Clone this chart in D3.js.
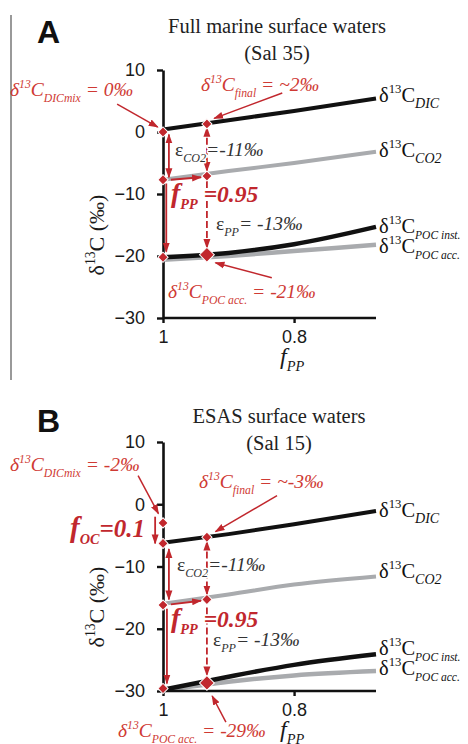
<!DOCTYPE html>
<html>
<head>
<meta charset="utf-8">
<script src="https://cdn.jsdelivr.net/npm/d3@7"></script>
<style>
body { margin: 0; background: #fff; }
svg { display: block; }
</style>
</head>
<body>
<script>
// f_PP sample points shared by every curve
var fPts = [1, 0.9, 0.8, 0.675];

// panel A - full marine surface waters (Sal 35)
var dicA = [0.4, 1.9, 3.4, 5.4];
var co2A = [-7.7, -6.3, -5.0, -3.2];
var pocInstA = [-20.2, -19.5, -18.1, -15.3];
var pocAccA = [-20.6, -20.0, -19.2, -18.2];

// panel B - ESAS surface waters (Sal 15)
var dicB = [-6.2, -4.8, -3.2, -1.1];
var co2B = [-16.0, -14.5, -12.9, -11.6];
var pocInstB = [-29.8, -27.7, -25.8, -24.1];
var pocAccB = [-29.9, -28.5, -27.5, -26.8];

var yTicks = [10, 0, -10, -20, -30];
var xTicks = [1, 0.8];
var fMark = 0.933;

// red diamonds [f, d13C, big]
var markA = [[1, 0], [fMark, 1.3], [1, -7.7], [fMark, -7.1], [1, -20.2], [fMark, -19.8, 1]];
var markB = [[1, -3.0], [1, -6.3], [fMark, -5.3], [1, -16.2], [fMark, -15.3], [1, -29.6], [fMark, -28.7, 1]];

// arrows [f1, v1, f2, v2, heads, dashed]
var arrowA = [[0.991, -0.4, 0.991, -7.3, 2, 0], [fMark, 0.7, fMark, -6.3, 2, 1],
              [0.988, -7.7, 0.942, -7.3, 1, 0], [0.995, -8.3, 0.995, -19.3, 1, 0],
              [fMark, -7.9, fMark, -18.7, 1, 1]];
var arrowB = [[1.012, -2.0, 1.012, -6.3, 1, 0], [0.991, -7.2, 0.991, -15.3, 2, 0],
              [fMark, -6.0, fMark, -14.5, 2, 1], [0.988, -16.1, 0.942, -15.5, 1, 0],
              [0.994, -16.8, 0.994, -28.8, 1, 0], [fMark, -16.6, fMark, -27.5, 1, 1]];
// thin pointers from the red labels [f1, v1, f2, v2]
var pointA = [[1.07, 4.5, 1.008, 0.8], [0.818, 6.3, 0.922, 2.2], [0.834, -23.5, 0.92, -21.1]];
var pointB = [[1.038, 4.6, 1.007, -1.5], [0.826, 1.4, 0.92, -4.4], [0.904, -35.0, 0.925, -30.8]];

var W = 468, H = 744;
var red = "#c1272d", redTxt = "#cf3a34", gray = "#a9abae", ink = "#1a1a1a";
var serif = "'Liberation Serif','Times New Roman','DejaVu Serif',serif";
var sans = "'Liberation Sans',Arial,sans-serif";

var svg = d3.select("body").append("svg").attr("width", W).attr("height", H);

svg.append("defs").append("marker")
    .attr("id", "ah")
    .attr("viewBox", "0 0 10 10")
    .attr("refX", 9).attr("refY", 5)
    .attr("markerWidth", 10).attr("markerHeight", 10)
    .attr("markerUnits", "userSpaceOnUse")
    .attr("orient", "auto-start-reverse")
    .append("path").attr("d", "M0,1.5L10,5L0,8.5z").attr("fill", red);

// text with super/subscripts; parts = [text, "sup"|"sub"|"", fontStyle, fontSize]
function rich(g, x, y, parts, o) {
    var t = g.append("text").attr("x", x).attr("y", y)
        .attr("font-family", serif).attr("font-size", o.size)
        .attr("fill", o.color || ink)
        .attr("font-style", o.italic ? "italic" : "normal")
        .attr("font-weight", o.bold ? "bold" : "normal")
        .attr("text-anchor", o.anchor || "start");
    if (o.halo) {
        t.attr("stroke", "#fff").attr("stroke-width", 3)
         .attr("stroke-linejoin", "round").attr("paint-order", "stroke");
    }
    var shift = 0;
    parts.forEach(function(p) {
        var target = p[1] === "sup" ? -o.size * 0.42 : p[1] === "sub" ? o.size * 0.3 : 0;
        var s = t.append("tspan").text(p[0]).attr("dy", target - shift);
        if (p[1]) s.attr("font-size", o.size * (o.small || 0.62));
        if (p[2]) s.attr("font-style", p[2]);
        if (p[3]) s.attr("font-size", p[3]);
        shift = target;
    });
    return t;
}

function panel(p) {
    var x = d3.scaleLinear().domain([1, 0.675]).range([163, 376]);
    var y = d3.scaleLinear().domain([-30, 10]).range([p.bottom, p.top]);
    var g = svg.append("g");

    // panel letter and title
    g.append("text").attr("x", 37).attr("y", p.letterY).text(p.letter)
        .attr("font-family", sans).attr("font-weight", "bold").attr("font-size", 32).attr("fill", "#111");
    g.append("text").attr("x", p.titleX).attr("y", p.titleY).attr("text-anchor", "middle")
        .attr("font-family", serif).attr("font-size", 20.5).attr("fill", "#222").text(p.title);
    g.append("text").attr("x", p.titleX).attr("y", p.titleY + 27).attr("text-anchor", "middle")
        .attr("font-family", serif).attr("font-size", 20.5).attr("fill", "#222").text(p.sub);

    // curves: accumulated POC first so the black instantaneous line sits on top
    var line = d3.line().x(function(d) { return x(d[0]); }).y(function(d) { return y(d[1]); })
        .curve(d3.curveMonotoneX);
    var series = [
        { v: p.co2, c: gray, w: 4 },
        { v: p.dic, c: "#111", w: 4 },
        { v: p.pocAcc, c: gray, w: 4.5 },
        { v: p.pocInst, c: "#111", w: 4.5 }
    ];
    series.forEach(function(s) {
        g.append("path")
            .datum(fPts.map(function(f, i) { return [f, s.v[i]]; }))
            .attr("d", line).attr("fill", "none")
            .attr("stroke", s.c).attr("stroke-width", s.w);
    });

    // axes
    var ya = g.append("g").attr("transform", "translate(163,0)")
        .call(d3.axisLeft(y).tickValues(yTicks).tickSize(6).tickSizeOuter(0).tickPadding(12));
    var xa = g.append("g").attr("transform", "translate(0," + p.bottom + ")")
        .call(d3.axisBottom(x).tickValues(xTicks).tickSize(5).tickSizeOuter(0).tickPadding(7)
            .tickFormat(function(d) { return d === 1 ? "1" : d3.format(".1f")(d); }));
    [ya, xa].forEach(function(a) {
        a.select(".domain").attr("stroke", "#111").attr("stroke-width", 2.6);
        a.selectAll(".tick line").attr("stroke", "#111").attr("stroke-width", 2.4);
        a.selectAll(".tick text").attr("font-family", sans).attr("font-size", 18).attr("fill", "#1a1a1a");
    });
    xa.select(".domain").attr("d", "M163,0H376");

    // axis titles
    rich(g, 280, p.bottom + p.fLabDy, [["f", "", "italic"], ["PP", "sub", "italic"]], { size: 24, small: 0.6 });
    rich(g, 0, 0, [["δ", ""], ["13", "sup"], ["C (‰)", ""]], { size: 22, anchor: "middle" })
        .attr("transform", "translate(104," + (p.top + 165) + ") rotate(-90)");

    // series labels at the right
    var lab = [["DIC", p.labY[0]], ["CO2", p.labY[1]], ["POC inst.", p.labY[2]], ["POC acc.", p.labY[3]]];
    lab.forEach(function(l) {
        rich(g, 379, l[1], [["δ", ""], ["13", "sup"], ["C", ""], [l[0], "sub", "italic", l[0].length > 4 ? 11.5 : 14]],
            { size: 20.5, color: "#111" });
    });

    // red arrows
    p.arrows.forEach(function(a) {
        var ln = g.append("line")
            .attr("x1", x(a[0])).attr("y1", y(a[1])).attr("x2", x(a[2])).attr("y2", y(a[3]))
            .attr("stroke", red).attr("stroke-width", 1.8)
            .attr("marker-end", "url(#ah)");
        if (a[4] === 2) ln.attr("marker-start", "url(#ah)");
        if (a[5]) ln.attr("stroke-dasharray", "7,3");
    });
    p.points.forEach(function(a) {
        g.append("line")
            .attr("x1", x(a[0])).attr("y1", y(a[1])).attr("x2", x(a[2])).attr("y2", y(a[3]))
            .attr("stroke", red).attr("stroke-width", 1.5)
            .attr("marker-end", "url(#ah)");
    });

    // diamonds
    g.selectAll(".mk").data(p.marks).enter().append("path")
        .attr("class", "mk")
        .attr("d", function(d) { return d3.symbol(d3.symbolSquare, d[2] ? 110 : 52)(); })
        .attr("transform", function(d) { return "translate(" + x(d[0]) + "," + y(d[1]) + ") rotate(45)"; })
        .attr("fill", red).attr("stroke", "#fff").attr("stroke-width", 1);

    return g;
}

// ----- panel A -----
svg.append("line").attr("x1", 11).attr("x2", 11).attr("y1", 15).attr("y2", 380)
    .attr("stroke", "#555").attr("stroke-width", 1.2);

var gA = panel({
    letter: "A", letterY: 43, title: "Full marine surface waters", sub: "(Sal 35)",
    titleX: 277, titleY: 33, top: 70, bottom: 318, fLabDy: 46,
    dic: dicA, co2: co2A, pocInst: pocInstA, pocAcc: pocAccA,
    labY: [102, 157, 233, 253], marks: markA, arrows: arrowA, points: pointA
});
var redLab = { size: 19.5, color: redTxt, italic: true, small: 0.6 };
var epsLab = { size: 19.5, color: "#333", italic: true, halo: true, small: 0.62 };
var fLab = { size: 23, color: red, italic: true, bold: true, halo: true, small: 0.62 };
rich(gA, 10, 96, [["δ", ""], ["13", "sup"], ["C", ""], ["DICmix", "sub"], [" = 0‰", ""]], redLab);
rich(gA, 201, 91, [["δ", ""], ["13", "sup"], ["C", ""], ["final", "sub"], [" = ~2‰", ""]], redLab);
rich(gA, 175, 156, [["ε", "", "normal"], ["CO2", "sub"], ["=-11‰", ""]], epsLab);
rich(gA, 171, 202, [["f", "", null, 28], ["PP", "sub"], [" =0.95", "", null, 23.5]], fLab);
rich(gA, 216, 230, [["ε", "", "normal"], ["PP", "sub"], ["= -13‰", ""]], epsLab);
rich(gA, 168, 298, [["δ", ""], ["13", "sup"], ["C", ""], ["POC acc.", "sub"], [" = -21‰", ""]], redLab);

// ----- panel B -----
var gB = panel({
    letter: "B", letterY: 432, title: "ESAS surface waters", sub: "(Sal 15)",
    titleX: 279, titleY: 423, top: 442, bottom: 691, fLabDy: 46,
    dic: dicB, co2: co2B, pocInst: pocInstB, pocAcc: pocAccB,
    labY: [517, 578, 655, 675], marks: markB, arrows: arrowB, points: pointB
});
rich(gB, 10, 471, [["δ", ""], ["13", "sup"], ["C", ""], ["DICmix", "sub"], [" = -2‰", ""]], redLab);
rich(gB, 199, 488, [["δ", ""], ["13", "sup"], ["C", ""], ["final", "sub"], [" = ~-3‰", ""]], redLab);
rich(gB, 70, 537, [["f", "", null, 29], ["OC", "sub"], ["=0.1", "", null, 25]], fLab);
rich(gB, 177, 571, [["ε", "", "normal"], ["CO2", "sub"], ["=-11‰", ""]], epsLab);
rich(gB, 171, 627, [["f", "", null, 28], ["PP", "sub"], [" =0.95", "", null, 23.5]], fLab);
rich(gB, 213, 646, [["ε", "", "normal"], ["PP", "sub"], ["= -13‰", ""]], epsLab);
rich(gB, 118, 737, [["δ", ""], ["13", "sup"], ["C", ""], ["POC acc.", "sub"], [" = -29‰", ""]], redLab);
</script>
</body>
</html>
